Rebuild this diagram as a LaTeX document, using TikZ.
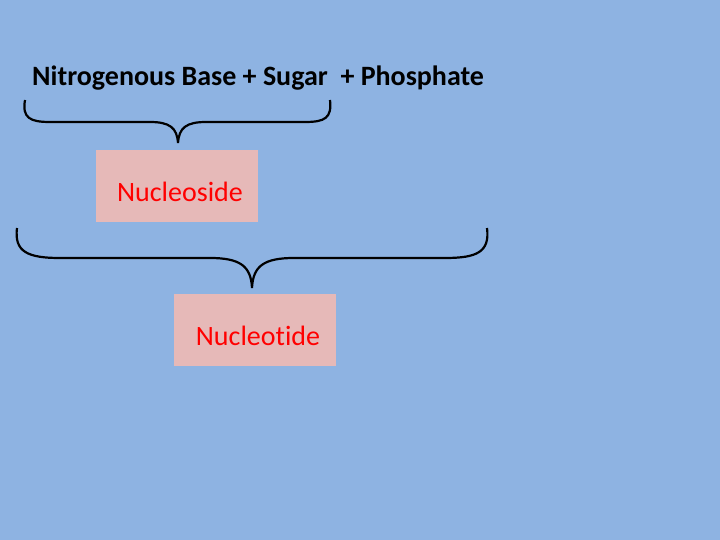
\documentclass[tikz,border=0pt]{standalone}
\usepackage{fontspec}
\setmainfont[Ligatures=NoCommon]{Carlito}
\definecolor{bg}{RGB}{142,179,226}
\definecolor{boxpink}{RGB}{230,185,184}
\begin{document}
\begin{tikzpicture}[x=1pt,y=-1pt,
  lbl/.style={inner sep=0pt,anchor=base west,font=\bfseries\fontsize{28}{32}\selectfont},
  pbox/.style={fill=boxpink,minimum width=162pt,minimum height=72pt,inner sep=0pt},
  ptxt/.style={inner sep=0pt,text=red,font=\fontsize{28}{32}\selectfont},
  brc/.style={line width=2.2pt,black}]
\fill[bg] (0,0) rectangle (720,540);
\useasboundingbox (0,0) rectangle (720,540);
\node[lbl] (top) at (32,86) {Nitrogenous Base + Sugar \ + Phosphate};
\node[pbox] (ns) at (177,186) {};
\node[ptxt] (nst) at (180,192) {Nucleoside};
\node[pbox] (nt) at (255,330) {};
\node[ptxt] (ntt) at (258,336) {Nucleotide};
\coordinate (a1) at (25,100); \coordinate (a2) at (330,100); \coordinate (at) at (178,143);
\draw[brc] (a1) .. controls (22,118) and (30,122) .. (50,122) -- (150,122)
  .. controls (170,122) and (177,128) .. (at)
  .. controls (179,128) and (186,122) .. (206,122) -- (305,122)
  .. controls (325,122) and (332,118) .. (a2);
\coordinate (b1) at (17,228); \coordinate (b2) at (487,228); \coordinate (bt) at (252,288);
\draw[brc] (b1) .. controls (14,252) and (28,258) .. (60,258) -- (210,258)
  .. controls (240,258) and (251,266) .. (bt)
  .. controls (253,266) and (264,258) .. (294,258) -- (445,258)
  .. controls (477,258) and (490,252) .. (b2);
\end{tikzpicture}
\end{document}
